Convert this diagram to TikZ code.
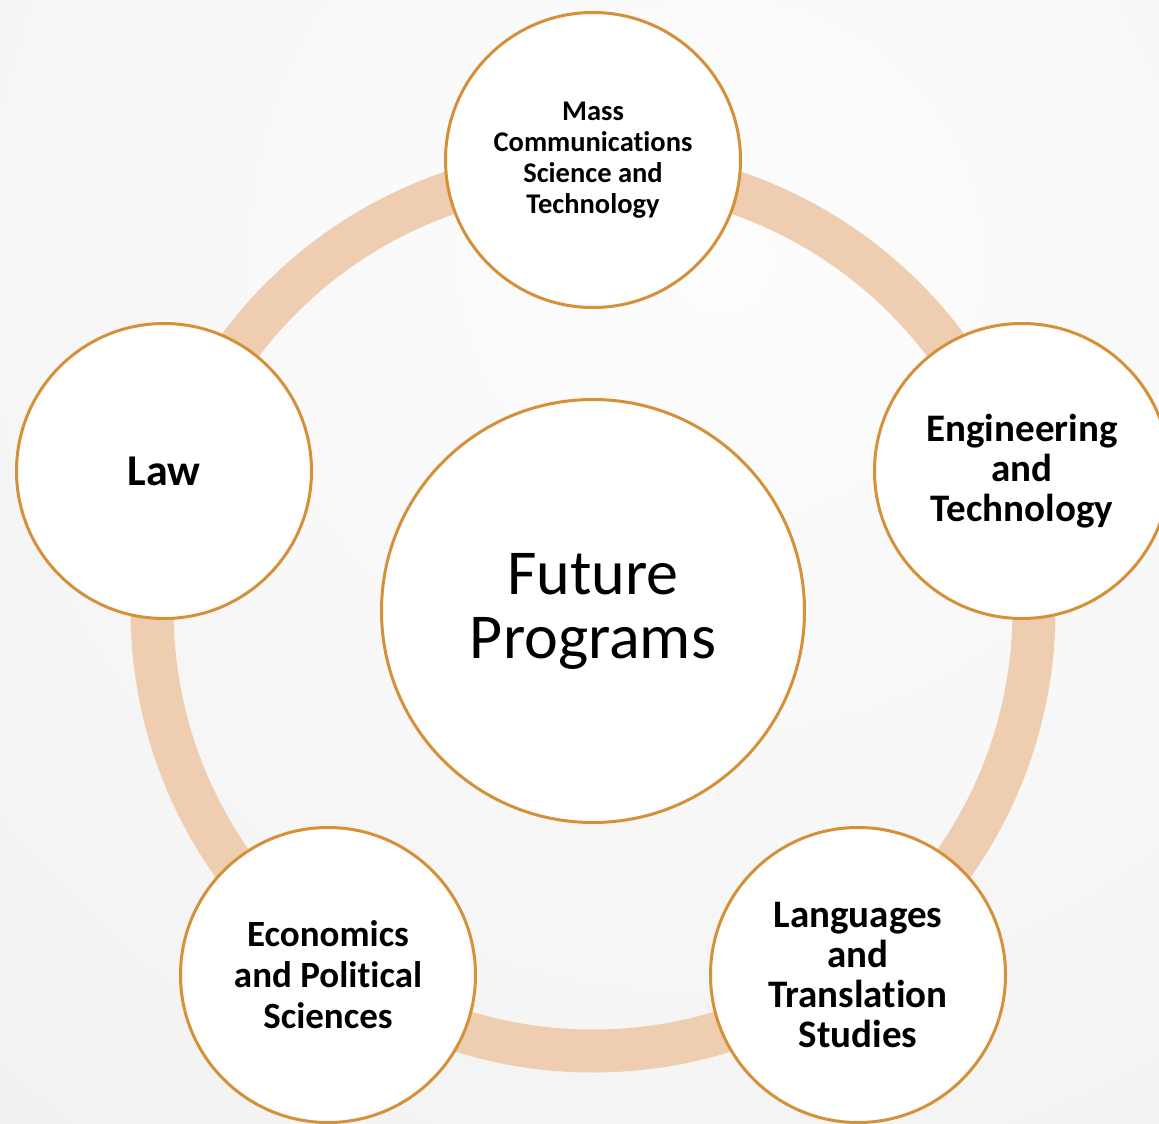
\documentclass[tikz,border=0pt]{standalone}
\usepackage{fontspec}
\setmainfont{Carlito}[Ligatures={NoCommon}]
\definecolor{ringc}{HTML}{EFCDB0}
\definecolor{edgec}{HTML}{D4913A}
\definecolor{bg0}{HTML}{FDFDFD}
\definecolor{bg1}{HTML}{F8F8F8}
\definecolor{bg2}{HTML}{F2F2F2}
\definecolor{bg3}{HTML}{ECECEC}
\definecolor{bg4}{HTML}{E0E0E0}
\definecolor{bg5}{HTML}{D8D8D8}
\pgfdeclareradialshading{bgshade}{\pgfpoint{0bp}{0bp}}{color(0bp)=(bg0); color(10bp)=(bg1); color(20bp)=(bg2); color(29bp)=(bg3); color(34bp)=(bg4); color(44bp)=(bg5); color(50bp)=(bg5)}
\tikzset{
  bubble/.style={circle, draw=edgec, line width=3pt, fill=white, minimum size=295pt, inner sep=0pt, align=center, text=black},
  hub/.style={bubble, minimum size=423pt, font=\fontsize{64}{64}\selectfont},
  txtbig/.style={font=\fontsize{39}{40}\selectfont\bfseries},
  txtmid/.style={font=\fontsize{37}{41}\selectfont\bfseries},
  txtsmall/.style={font=\fontsize{28.5}{31}\selectfont\bfseries},
  txtlaw/.style={font=\fontsize{44}{48}\selectfont\bfseries}
}
\begin{document}
\begin{tikzpicture}[x=1pt,y=-1pt]
\useasboundingbox (0,0) rectangle (1159,1124);
\clip (0,0) rectangle (1159,1124);
\shade[shading=bgshade] (720,260) circle[radius=1300pt];
\draw[ringc, line width=43pt] (593,610) circle[radius=441pt];
\node[hub] (hub) at (593,611) {Future\\Programs};
\node[bubble, txtsmall] (mass) at (593,160) {Mass\\Communications\\Science and\\Technology};
\node[bubble, txtbig] (eng) at (1022,471) {Engineering\\and\\Technology};
\node[bubble, txtbig] (lang) at (858,975) {Languages\\and\\Translation\\Studies};
\node[bubble, txtmid] (econ) at (328,975) {Economics\\and Political\\Sciences};
\node[bubble, txtlaw] (law) at (164,471) {Law};
\end{tikzpicture}
\end{document}
